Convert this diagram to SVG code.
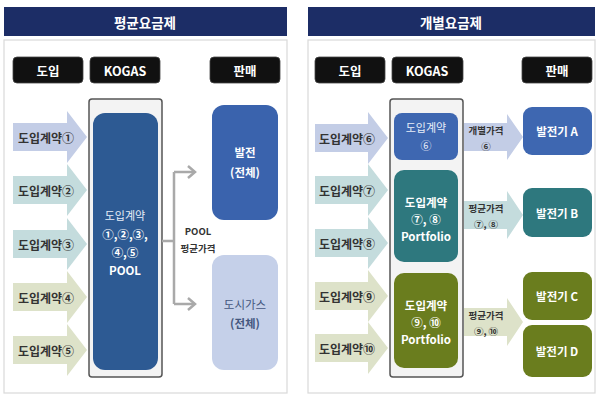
<svg xmlns="http://www.w3.org/2000/svg" width="600" height="400" viewBox="0 0 600 400">
<defs>
<style>
text{font-family:"Noto Sans CJK KR","Noto Sans",sans-serif;text-anchor:middle;dominant-baseline:central}
.hdr{fill:#1c2d66}
.hdrt{fill:#fff;font-size:13.5px;font-weight:bold}
.panel{fill:#fff;stroke:#d9d9d9;stroke-width:1.2}
.tag{fill:#111;stroke:#444;stroke-width:0.8}
.tagt{fill:#fff;font-size:12.5px;font-weight:bold}
.kog{fill:#f3f3f3;stroke:#555;stroke-width:1.5}
.inl{fill:#333;font-size:12px;font-weight:bold}
.a1{fill:#c3cde6}.a2{fill:#c4dcdd}.a3{fill:#dde2c9}
.blue{fill:#3e67b1}.teal{fill:#2e787e}.olive{fill:#6a7d1e}
.wt{fill:#fff;font-size:11.5px;font-weight:bold}
.wn{fill:#e8eef8;font-size:11px}
.sm{fill:#333;font-size:9.5px;font-weight:bold}
.conn{fill:none;stroke:#a9a9a9;stroke-width:2.5}
</style>
</defs>

<!-- LEFT PANEL -->
<g id="left-panel">
<rect class="panel" x="4" y="40" width="283" height="353"/>
<rect class="hdr" x="4" y="7" width="283" height="29"/>
<text class="hdrt" x="145" y="22">평균요금제</text>
</g>
<g id="L-tag-import"><rect class="tag" x="13" y="57" width="70" height="26" rx="4"/><text class="tagt" x="48" y="70">도입</text></g>
<g id="L-tag-kogas"><rect class="tag" x="90" y="57" width="70" height="26" rx="4"/><text class="tagt" x="125" y="70">KOGAS</text></g>
<g id="L-tag-sale"><rect class="tag" x="210" y="57" width="70" height="26" rx="4"/><text class="tagt" x="245" y="70">판매</text></g>

<g id="L-in1"><path class="a1" d="M13,123H67V111L87,137L67,163V151H13Z"/><text class="inl" x="46" y="137">도입계약①</text></g>
<g id="L-in2"><path class="a2" d="M13,176H67V164L87,190L67,216V204H13Z"/><text class="inl" x="46" y="190">도입계약②</text></g>
<g id="L-in3"><path class="a2" d="M13,230H67V218L87,244L67,270V258H13Z"/><text class="inl" x="46" y="244">도입계약③</text></g>
<g id="L-in4"><path class="a3" d="M13,283H67V271L87,297L67,323V311H13Z"/><text class="inl" x="46" y="297">도입계약④</text></g>
<g id="L-in5"><path class="a3" d="M13,336H67V324L87,350L67,376V364H13Z"/><text class="inl" x="46" y="350">도입계약⑤</text></g>

<g id="L-kogas">
<rect class="kog" x="89" y="99" width="73" height="278" rx="3"/>
<rect x="93" y="113" width="65" height="257" rx="12" fill="#2d5a93"/>
<text class="wn" x="125" y="215">도입계약</text>
<text class="wt" x="125" y="234" font-size="10.5">①,②,③,</text>
<text class="wt" x="125" y="252" font-size="10.5">④,⑤</text>
<text class="wt" x="125" y="270">POOL</text>
</g>

<g id="L-connectors">
<path class="conn" d="M162,241H174M174,172V304M174,172H194M174,304H194"/>
<path class="conn" d="M188,166L195,172L188,178M188,298L195,304L188,310"/>
<text class="sm" x="198" y="231" font-size="10">POOL</text>
<text class="sm" x="198" y="248">평균가격</text>
</g>

<g id="L-power"><rect x="212" y="105" width="66" height="115" rx="12" fill="#3a63ad"/><text class="wt" x="245" y="152">발전</text><text class="wt" x="245" y="172">(전체)</text></g>
<g id="L-citygas"><rect x="212" y="255" width="66" height="115" rx="12" fill="#c5d0e9"/><text x="245" y="304" fill="#44577f" font-size="11.5px">도시가스</text><text x="245" y="323" fill="#44577f" font-size="11.5px" font-weight="bold">(전체)</text></g>

<!-- RIGHT PANEL -->
<g id="right-panel">
<rect class="panel" x="308" y="40" width="287" height="353"/>
<rect class="hdr" x="308" y="7" width="287" height="29"/>
<text class="hdrt" x="451" y="22">개별요금제</text>
</g>
<g id="R-tag-import"><rect class="tag" x="315" y="57" width="70" height="26" rx="4"/><text class="tagt" x="350" y="70">도입</text></g>
<g id="R-tag-kogas"><rect class="tag" x="392" y="57" width="71" height="26" rx="4"/><text class="tagt" x="427" y="70">KOGAS</text></g>
<g id="R-tag-sale"><rect class="tag" x="522" y="57" width="70" height="26" rx="4"/><text class="tagt" x="557" y="70">판매</text></g>

<g id="R-in6"><path class="a1" d="M315,124H368V112L388,138L368,164V152H315Z"/><text class="inl" x="347" y="138">도입계약⑥</text></g>
<g id="R-in7"><path class="a2" d="M315,176H368V164L388,190L368,216V204H315Z"/><text class="inl" x="347" y="190">도입계약⑦</text></g>
<g id="R-in8"><path class="a2" d="M315,229H368V217L388,243L368,269V257H315Z"/><text class="inl" x="347" y="243">도입계약⑧</text></g>
<g id="R-in9"><path class="a3" d="M315,282H368V270L388,296L368,322V310H315Z"/><text class="inl" x="347" y="296">도입계약⑨</text></g>
<g id="R-in10"><path class="a3" d="M315,334H368V322L388,348L368,374V362H315Z"/><text class="inl" x="347" y="348">도입계약⑩</text></g>

<g id="R-kogas">
<rect class="kog" x="390" y="99" width="73" height="278" rx="3"/>
</g>
<g id="R-c6"><rect class="blue" x="394" y="113" width="64" height="47" rx="8"/><text class="wn" x="426" y="127">도입계약</text><text class="wn" x="426" y="145" font-size="11">⑥</text></g>
<g id="R-c78"><rect class="teal" x="394" y="170" width="64" height="92" rx="10"/><text class="wt" x="426" y="202">도입계약</text><text class="wt" x="426" y="219" font-size="10.5">⑦, ⑧</text><text class="wt" x="426" y="236" font-size="10.5">Portfolio</text></g>
<g id="R-c910"><rect class="olive" x="394" y="273" width="64" height="95" rx="10"/><text class="wt" x="426" y="305">도입계약</text><text class="wt" x="426" y="322" font-size="10.5">⑨, ⑩</text><text class="wt" x="426" y="339" font-size="10.5">Portfolio</text></g>

<g id="R-connectors">
<g id="R-p6"><path class="a1" d="M464,123H507V114L523,137L507,160V151H464Z"/><text class="sm" x="486" y="130">개별가격</text><text class="sm" x="486" y="146">⑥</text></g>
<g id="R-p78"><path class="a2" d="M464,201H507V191L523,215L507,239V229H464Z"/><text class="sm" x="486" y="208">평균가격</text><text class="sm" x="486" y="224">⑦, ⑧</text></g>
<g id="R-p910"><path class="a3" d="M464,308H507V298L523,322L507,346V336H464Z"/><text class="sm" x="486" y="315">평균가격</text><text class="sm" x="486" y="331">⑨, ⑩</text></g>
</g>

<g id="R-genA"><rect class="blue" x="523" y="107" width="69" height="48" rx="9"/><text class="wt" x="557" y="131">발전기 A</text></g>
<g id="R-genB"><rect class="teal" x="523" y="188" width="69" height="49" rx="9"/><text class="wt" x="557" y="213">발전기 B</text></g>
<g id="R-genC"><rect class="olive" x="523" y="272" width="69" height="48" rx="9"/><text class="wt" x="557" y="296">발전기 C</text></g>
<g id="R-genD"><rect class="olive" x="523" y="325" width="69" height="52" rx="9"/><text class="wt" x="557" y="351">발전기 D</text></g>
</svg>
